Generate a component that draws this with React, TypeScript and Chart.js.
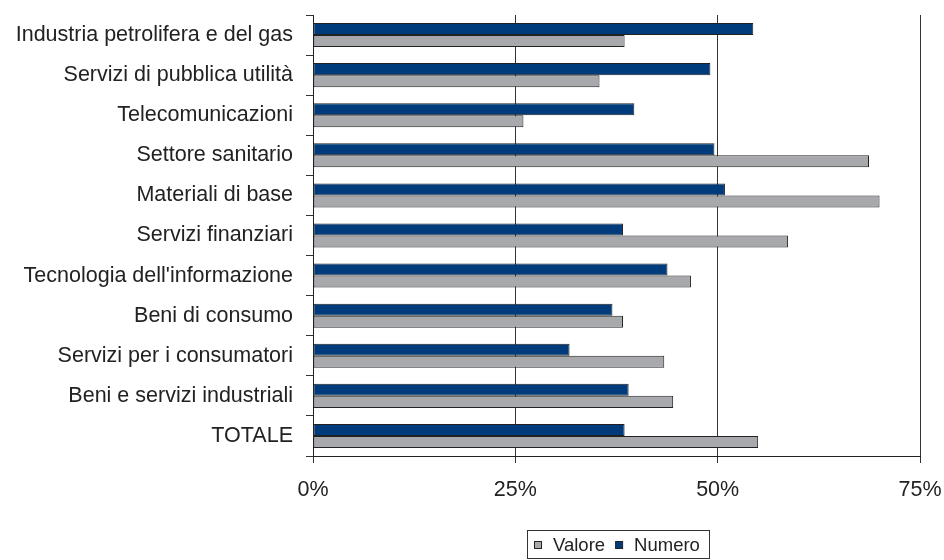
import React, { useEffect, useRef } from "react";
import { Chart, registerables } from "chart.js";

Chart.register(...registerables);

const categories = [
  "Industria petrolifera e del gas",
  "Servizi di pubblica utilità",
  "Telecomunicazioni",
  "Settore sanitario",
  "Materiali di base",
  "Servizi finanziari",
  "Tecnologia dell'informazione",
  "Beni di consumo",
  "Servizi per i consumatori",
  "Beni e servizi industriali",
  "TOTALE",
];

const numero = [54.4, 49.1, 39.7, 49.6, 50.9, 38.3, 43.8, 37.0, 31.7, 39.0, 38.5];
const valore = [38.5, 35.4, 26.0, 68.7, 70.0, 58.7, 46.7, 38.3, 43.4, 44.5, 55.0];

const xTicks = [0, 25, 50, 75];

const FONT = "'Liberation Sans', Arial, sans-serif";

// Custom legend with border (order: Valore, Numero)
const boxedLegend = {
  id: "boxedLegend",
  afterDraw(chart: any) {
    const ctx = chart.ctx;
    const ds = chart.data.datasets.slice().reverse();
    ctx.save();
    ctx.font = "18.5px " + FONT;
    const sq = 7;
    const gapBoxText = 12;
    const gapItems = 10;
    const widths = ds.map((d: any) => ctx.measureText(d.label).width);
    const total = widths.reduce((a: number, w: number) => a + sq + gapBoxText + w, 0) + gapItems * (ds.length - 1);
    const cx = (chart.chartArea.left + chart.chartArea.right) / 2;
    let x = Math.round(cx - total / 2);
    const yMid = 545;
    ctx.strokeStyle = "#333";
    ctx.lineWidth = 1;
    const bx0 = x - 7 + 0.5;
    const bx1 = Math.round(x + total + 9) + 0.5;
    ctx.strokeRect(bx0, 530.5, bx1 - bx0, 28);
    ctx.textBaseline = "middle";
    ctx.textAlign = "left";
    ds.forEach((d: any, i: number) => {
      ctx.fillStyle = d.backgroundColor;
      ctx.fillRect(x + 0.5, yMid - 3.5, sq, sq);
      ctx.strokeStyle = "#222";
      ctx.strokeRect(x + 0.5, yMid - 3.5, sq, sq);
      x += sq + gapBoxText;
      ctx.fillStyle = "#222";
      ctx.fillText(d.label, x, yMid + 1);
      x += widths[i] + gapItems;
    });
    ctx.restore();
  },
};

export default function App() {
  const ref = useRef<HTMLCanvasElement>(null);
  useEffect(() => {
    if (!ref.current) return;
    Chart.defaults.font.family = FONT;
    const chart = new Chart(ref.current, {
      type: "bar",
      data: {
        labels: categories,
        datasets: [
          {
            label: "Numero",
            data: numero,
            backgroundColor: "#003B7B",
            borderColor: "#222",
            borderWidth: 1,
            borderSkipped: false,
            categoryPercentage: 0.6,
            barPercentage: 1.0,
          },
          {
            label: "Valore",
            data: valore,
            backgroundColor: "#A7A9AC",
            borderColor: "#222",
            borderWidth: 1,
            borderSkipped: false,
            categoryPercentage: 0.6,
            barPercentage: 1.0,
          },
        ],
      },
      options: {
        indexAxis: "y",
        animation: false,
        responsive: true,
        maintainAspectRatio: false,
        layout: { padding: { top: 15, right: 24, left: 0, bottom: 34 } },
        scales: {
          x: {
            min: 0,
            max: 75,
            afterBuildTicks: (s: any) => {
              s.ticks = xTicks.map((v) => ({ value: v }));
            },
            afterFit: (s: any) => {
              s.height = 70;
              s.paddingLeft = 0;
              s.paddingRight = 0;
            },
            ticks: {
              callback: (v: any) => v + "%",
              color: "#222",
              font: { size: 21.5 },
              padding: 14,
              maxRotation: 0,
            },
            grid: {
              color: "#333",
              lineWidth: 1,
              tickLength: 7,
              drawOnChartArea: true,
            },
            border: { display: true, color: "#222", width: 1 },
          },
          y: {
            afterFit: (s: any) => {
              s.width = 313;
              s.paddingTop = 0;
              s.paddingBottom = 0;
            },
            ticks: {
              color: "#222",
              font: { size: 21.5 },
              padding: 13,
              autoSkip: false,
            },
            grid: {
              drawOnChartArea: false,
              color: "#333",
              tickLength: 7,
              offset: true,
            },
            border: { display: true, color: "#222", width: 1 },
          },
        },
        plugins: {
          tooltip: { enabled: false },
          legend: { display: false },
        },
      },
      plugins: [boxedLegend],
    } as any);
    return () => chart.destroy();
  }, []);
  return (
    <div style={{ position: "fixed", left: 0, top: 0, width: 944, height: 560, background: "#fff" }}>
      <canvas ref={ref} />
    </div>
  );
}
